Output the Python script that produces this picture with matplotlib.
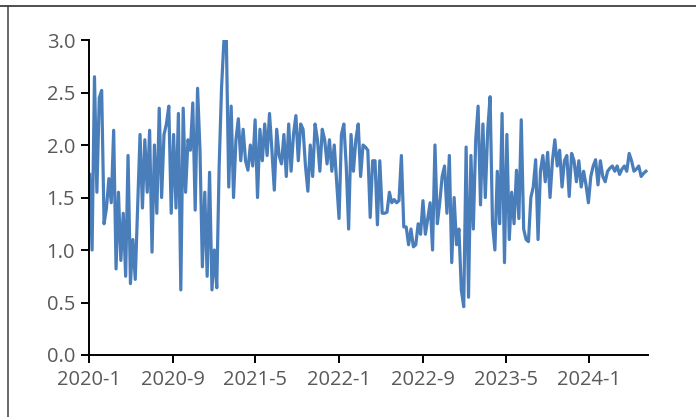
import matplotlib
matplotlib.use("Agg")
import matplotlib.pyplot as plt
import pandas as pd
from matplotlib.lines import Line2D

plt.rcParams['font.family'] = ['Open Sans', 'DejaVu Sans']

# weekly readings, first week of 2020 onward
start_date = "2020-01-03"
values = [
    1.72, 1.00, 2.65, 1.55, 2.45, 2.52, 1.25, 1.40, 1.68, 1.45,
    2.14, 0.82, 1.55, 0.90, 1.35, 0.75, 1.90, 0.68, 1.10, 0.72,
    1.40, 2.10, 1.40, 2.05, 1.55, 2.14, 0.98, 2.00, 1.35, 2.35,
    1.50, 2.10, 2.20, 2.37, 1.35, 2.10, 1.40, 2.30, 0.62, 2.35,
    1.55, 2.05, 1.95, 2.40, 1.38, 2.54, 1.95, 0.84, 1.55, 0.75,
    1.74, 0.62, 1.00, 0.64, 1.80, 2.55, 3.00, 3.00, 1.60, 2.37,
    1.50, 2.05, 2.25, 1.85, 2.15, 1.85, 1.76, 2.00, 1.80, 2.24,
    1.50, 2.15, 1.85, 2.20, 1.90, 2.30, 1.95, 1.57, 2.15, 1.90,
    1.82, 2.10, 1.70, 2.20, 1.75, 2.10, 2.28, 1.85, 2.20, 2.15,
    1.80, 1.56, 2.00, 1.70, 2.20, 2.05, 1.75, 2.15, 2.05, 1.82,
    2.05, 1.75, 2.00, 1.65, 1.30, 2.10, 2.20, 1.80, 1.20, 2.10,
    1.75, 2.05, 2.20, 1.70, 2.00, 1.98, 1.95, 1.31, 1.85, 1.85,
    1.24, 1.85, 1.35, 1.35, 1.36, 1.55, 1.45, 1.48, 1.45, 1.47,
    1.90, 1.22, 1.22, 1.05, 1.20, 1.03, 1.05, 1.25, 1.15, 1.47,
    1.15, 1.30, 1.45, 1.00, 2.00, 1.25, 1.45, 1.70, 1.80, 1.35,
    1.90, 0.88, 1.50, 1.05, 1.20, 0.62, 0.46, 1.98, 0.55, 1.90,
    1.20, 2.05, 2.37, 1.43, 2.20, 1.50, 2.14, 2.46, 1.25, 1.00,
    1.75, 1.25, 2.30, 0.88, 2.10, 1.10, 1.55, 1.25, 1.76, 1.30,
    2.24, 1.20, 1.10, 1.08, 1.50, 1.60, 1.86, 1.10, 1.75, 1.90,
    1.65, 1.93, 1.50, 1.85, 2.05, 1.80, 1.95, 1.60, 1.85, 1.90,
    1.51, 1.92, 1.85, 1.65, 1.85, 1.60, 1.75, 1.62, 1.45, 1.70,
    1.80, 1.86, 1.62, 1.85, 1.70, 1.65, 1.75, 1.78, 1.80, 1.75,
    1.80, 1.72, 1.77, 1.80, 1.75, 1.92, 1.85, 1.75, 1.77, 1.80,
    1.70, 1.73, 1.75,
]
tick_dates = ["2020-01-01", "2020-09-01", "2021-05-01", "2022-01-01",
              "2022-09-01", "2023-05-01", "2024-01-01"]
tick_labels = ["2020-1", "2020-9", "2021-5", "2022-1", "2022-9", "2023-5", "2024-1"]
y_ticks = [0.0, 0.5, 1.0, 1.5, 2.0, 2.5, 3.0]

dates = pd.date_range(start_date, periods=len(values), freq="7D")

fig = plt.figure(figsize=(6.96, 4.17), dpi=100)
ax = fig.add_axes([89 / 696, 62 / 417, 559 / 696, 315 / 417])

ax.plot(dates, values, color="#4a7ebb", linewidth=2.3, solid_joinstyle="round")

ax.set_ylim(0, 3.0)
ax.set_xlim(pd.Timestamp("2020-01-01"), pd.Timestamp("2024-06-20"))
ax.set_yticks(y_ticks)
ax.set_yticklabels([f"{v:.1f}" for v in y_ticks])
ax.set_xticks(pd.to_datetime(tick_dates))
ax.set_xticklabels(tick_labels)

for side in ["top", "right"]:
    ax.spines[side].set_visible(False)
for side in ["left", "bottom"]:
    ax.spines[side].set_linewidth(1.4)
    ax.spines[side].set_color("black")

ax.tick_params(axis="both", direction="out", length=6, width=1.4,
               colors="black", labelcolor="#595959", labelsize=14.5)
ax.tick_params(axis="y", pad=4)
ax.tick_params(axis="x", pad=5)

# outer frame lines of the screenshot
fig.add_artist(Line2D([0, 1], [1 - 5.5 / 417] * 2, transform=fig.transFigure,
                      color="#404040", linewidth=1.3))
fig.add_artist(Line2D([7.5 / 696] * 2, [0, 1 - 5.5 / 417], transform=fig.transFigure,
                      color="#404040", linewidth=1.1))

fig.savefig("out.png", dpi=100)
